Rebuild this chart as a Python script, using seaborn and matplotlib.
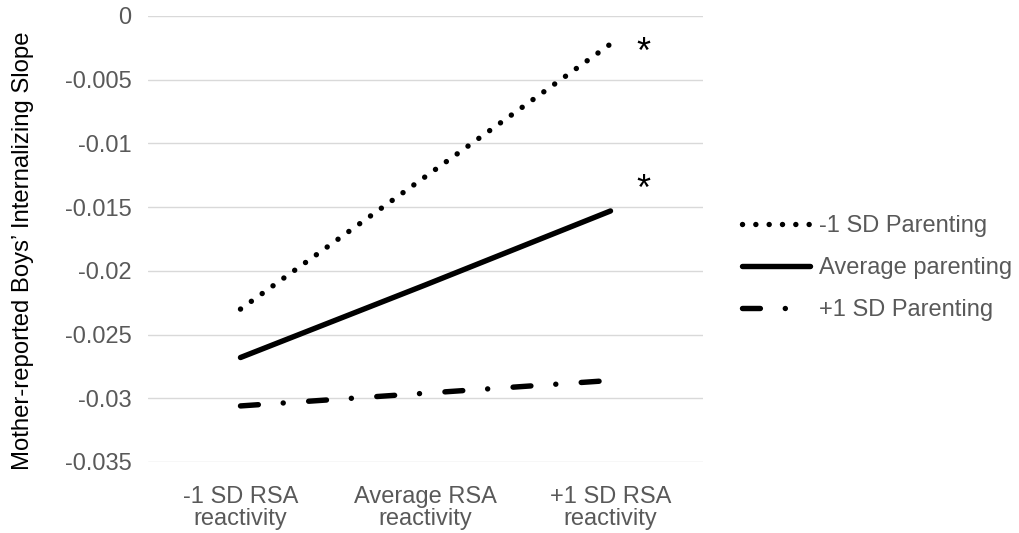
import matplotlib
matplotlib.use("Agg")
import matplotlib.pyplot as plt
import seaborn as sns
import pandas as pd

# ---- data ----
categories = ["-1 SD RSA\nreactivity", "Average RSA\nreactivity", "+1 SD RSA\nreactivity"]
series_names = ["-1 SD Parenting", "Average parenting", "+1 SD Parenting"]
low_parenting = [-0.0230, -0.0126, -0.0022]
avg_parenting = [-0.0268, -0.0211, -0.0153]
high_parenting = [-0.0306, -0.0296, -0.0286]
yticks = [0, -0.005, -0.01, -0.015, -0.02, -0.025, -0.03, -0.035]
ytick_labels = ["0", "-0.005", "-0.01", "-0.015", "-0.02", "-0.025", "-0.03", "-0.035"]
star_labels = ["*", "*"]
star_y = [-0.0016, -0.0123]

sns.set_theme(style="white")
plt.rcParams["font.family"] = ["Liberation Sans", "DejaVu Sans"]

rows = []
for name, vals in zip(series_names, [low_parenting, avg_parenting, high_parenting]):
    for i, v in enumerate(vals):
        rows.append({"series": name, "x": i, "value": v})
df = pd.DataFrame(rows)

fig = plt.figure(figsize=(10.19, 5.33), dpi=100)
ax = fig.add_axes([148 / 1019, 1 - 462 / 533, 555 / 1019, 446 / 533])

lw = 3.9
styles = {
    "-1 SD Parenting": (0, (0.01, 2.45)),
    "Average parenting": None,
    "+1 SD Parenting": (0, (3.3, 4.6, 0.01, 4.7)),
}
handles = []
for name in series_names:
    sub = df[df["series"] == name]
    sns.lineplot(data=sub, x="x", y="value", ax=ax, color="black", lw=lw,
                 label=name, legend=False)
    line = ax.get_lines()[-1]
    line.set_solid_capstyle("round")
    line.set_dash_capstyle("round")
    if styles[name] is not None:
        line.set_linestyle(styles[name])
        line.set_dash_capstyle("round")
    handles.append(line)

ax.set_xlim(-0.5, 2.5)
ax.set_ylim(-0.035, 0)
ax.set_xticks(range(len(categories)))
ax.set_xticklabels(categories, fontsize=17, color="#595959", linespacing=1.05)
ax.set_yticks(yticks)
ax.set_yticklabels(ytick_labels, fontsize=17, color="#595959")
ax.tick_params(axis="both", length=0)
ax.tick_params(axis="y", pad=12)
ax.tick_params(axis="x", pad=17)
ax.yaxis.grid(True, color="#d9d9d9", lw=1.0)
ax.xaxis.grid(False)
for s in ax.spines.values():
    s.set_visible(False)
ax.set_xlabel("")
ax.set_ylabel("Mother-reported Boys’ Internalizing Slope", fontsize=17.2, color="black")
ax.yaxis.set_label_coords(-(148 - 34) / 555, 0.473)

for lab, yv in zip(star_labels, star_y):
    ax.text(2.18, yv, lab, fontsize=26, color="black", ha="center", va="top")

leg = fig.legend(handles=handles, labels=series_names, loc="center left",
                 bbox_to_anchor=(742 / 1019, 1 - 268 / 533), frameon=False,
                 fontsize=17, handlelength=2.9, handletextpad=0.35,
                 labelspacing=0.85, borderpad=0, borderaxespad=0)
for t in leg.get_texts():
    t.set_color("#595959")

fig.savefig("out.png", dpi=100)
